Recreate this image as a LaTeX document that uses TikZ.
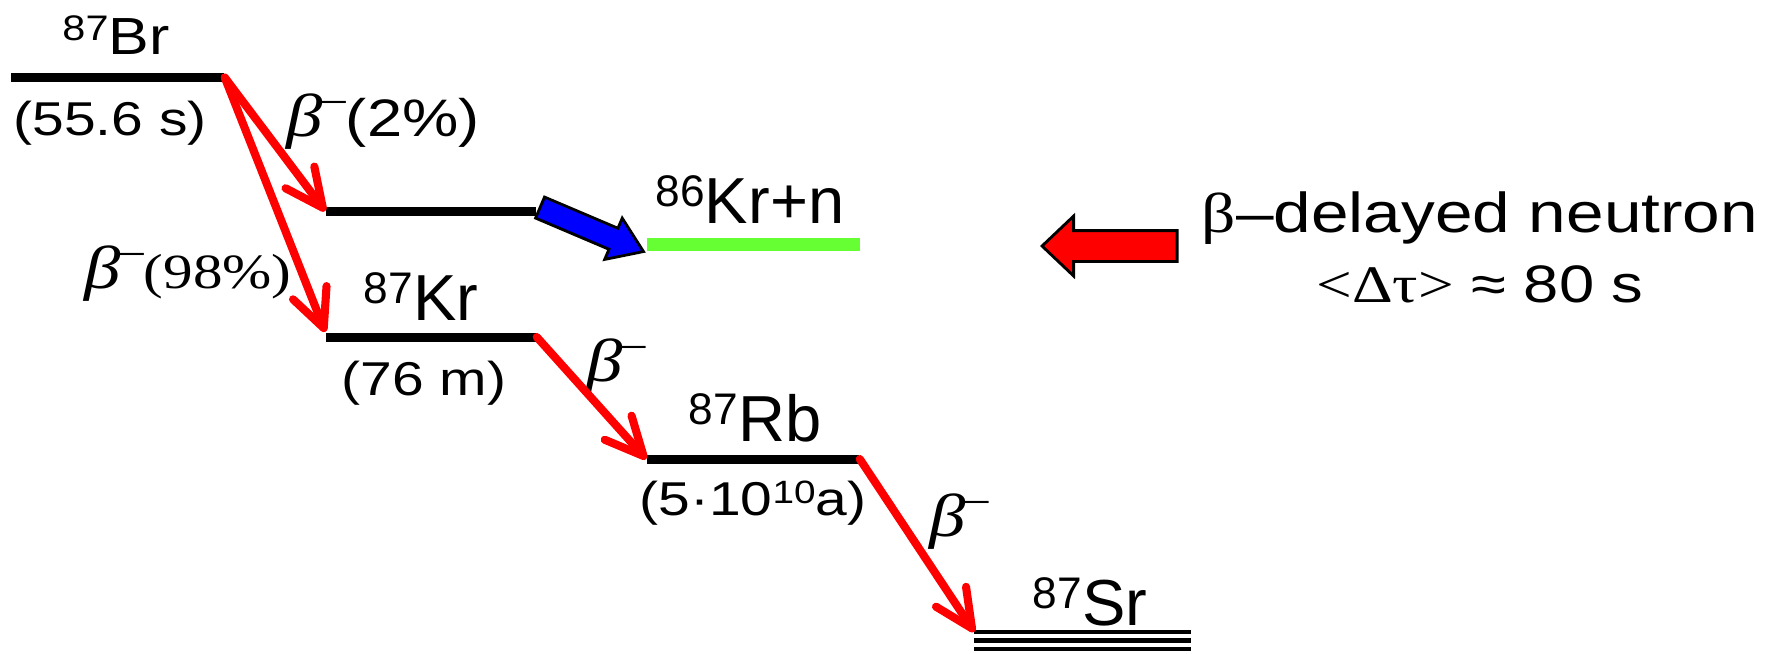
\documentclass[tikz,border=0pt]{standalone}
\usepackage{fontspec}
\setmainfont{Liberation Sans}[FakeStretch=1.2]
\newfontfamily\isofont{Liberation Sans}
\newfontfamily\tnr{Liberation Serif}[FakeStretch=1.2]
\usepackage{graphicx}
\usetikzlibrary{arrows.meta,calc,shapes.arrows}
\definecolor{levelgreen}{HTML}{66FF33}

\newcommand{\up}[1]{\raisebox{0.25em}{\scalebox{0.68}{#1}}}
\newcommand{\iso}[2]{{\isofont\up{#1}#2}}
\newcommand{\bmin}{{\tnr\itshape\scalebox{1.15}{β}}\kern-0.06em\raisebox{0.5em}{\scalebox{0.75}[0.6]{–}}}

\begin{document}
\begin{tikzpicture}[x=0.01cm,y=-0.01cm,
        lvl/.style={fill=black,inner sep=0,minimum height=0.09cm},
        iso/.style={font=\isofont\fontsize{18.5}{20}\selectfont,inner sep=0,anchor=base},
        life/.style={font=\fontsize{13.5}{16}\selectfont,inner sep=0,anchor=base},
        blab/.style={font=\fontsize{15}{18}\selectfont,inner sep=0},
        note/.style={font=\fontsize{16}{19}\selectfont,inner sep=0,anchor=base},
        decay/.style={red,line width=2.3pt,line cap=round,
                      -{Straight Barb[length=3.8mm,width=3.6mm,round]}},
        fat/.style={single arrow,draw=black,line width=0.8pt,inner xsep=0,minimum width=0}]
      \useasboundingbox (0,0) rectangle (1773,653);
      % levels
      \node[lvl,minimum width=2.13cm] (br) at (117.5,77.5) {};
      \node[lvl,minimum width=2.10cm] (mid) at (431,211) {};
      \node[lvl,minimum width=2.10cm] (kr87) at (431,337) {};
      \node[lvl,fill=levelgreen,minimum width=2.13cm,minimum height=0.13cm] (kr86) at (753.5,244) {};
      \node[lvl,minimum width=2.12cm] (rb) at (753,459) {};
      \node[inner sep=0,minimum width=2.15cm,minimum height=0.16cm] (sr) at (1082.5,640.5) {};
      \draw[line width=1pt] (sr.north west) -- (sr.north east);
      \draw[line width=1.6pt] (sr.west) -- (sr.east);
      \draw[line width=1.2pt] (sr.south west) -- (sr.south east);
      % labels
      \node[iso,font=\isofont\fontsize{16.5}{18}\selectfont] (brlab) at (116,54) {\scalebox{1.05}[0.9]{\iso{87}{Br}}};
      \node[life] (brlife) at (110,135) {(55.6 s)};
      \node[iso] (kr87lab) at (421,320) {\iso{87}{Kr}};
      \node[life] (kr87life) at (424,395) {(76 m)};
      \node[iso] (kr86lab) at (750,223) {\iso{86}{Kr+n}};
      \node[iso] (rblab) at (755,441) {\iso{87}{Rb}};
      \node[life] (rblife) at (753,515) {(5·10\up{10}a)};
      \node[iso] (srlab) at (1090,625) {\iso{87}{Sr}};
      \node[blab] (b2) at (383,122) {\bmin(2\%)};
      \node[blab] (b98) at (188,274) {\bmin{\tnr\fontsize{14}{17}\selectfont(98\%)}};
      \node[blab] (bkr) at (616,367) {\bmin};
      \node[blab] (brb) at (959,522) {\bmin};
      % decays
      \draw[decay] (br.east) -- (mid.west);
      \draw[decay] (br.east) -- (kr87.north west);
      \draw[decay] (kr87.east) -- (rb.west);
      \draw[decay] (rb.east) -- (sr.north west);
      % neutron emission
      \coordinate (nA) at ($(mid.east)+(2,-4)$);
      \coordinate (nB) at ($(kr86.west)+(-4,7)$);
      \path let \p1=($(nB)-(nA)$) in
        node[fat,fill=blue,anchor=tail,rotate={atan2(\y1,\x1)},minimum height={veclen(\x1,\y1)},
             inner ysep=0.1cm,single arrow head extend=0.11cm,single arrow tip angle=69] (nflow) at (nA) {};
      % note on the right
      \node[fat,fill=red,shape border rotate=180,anchor=tip,minimum height=1.35cm,inner ysep=0.14cm,
            single arrow head extend=0.145cm,single arrow tip angle=87] (pointer) at (1040,246) {};
      \node[note] (title) at (1480,232) {{\tnr β}–delayed neutron};
      \node[note,font=\fontsize{15}{18}\selectfont] (dt) at (1480,302) {{\tnr <Δτ>} ≈ 80 s};
    \end{tikzpicture}
\end{document}
